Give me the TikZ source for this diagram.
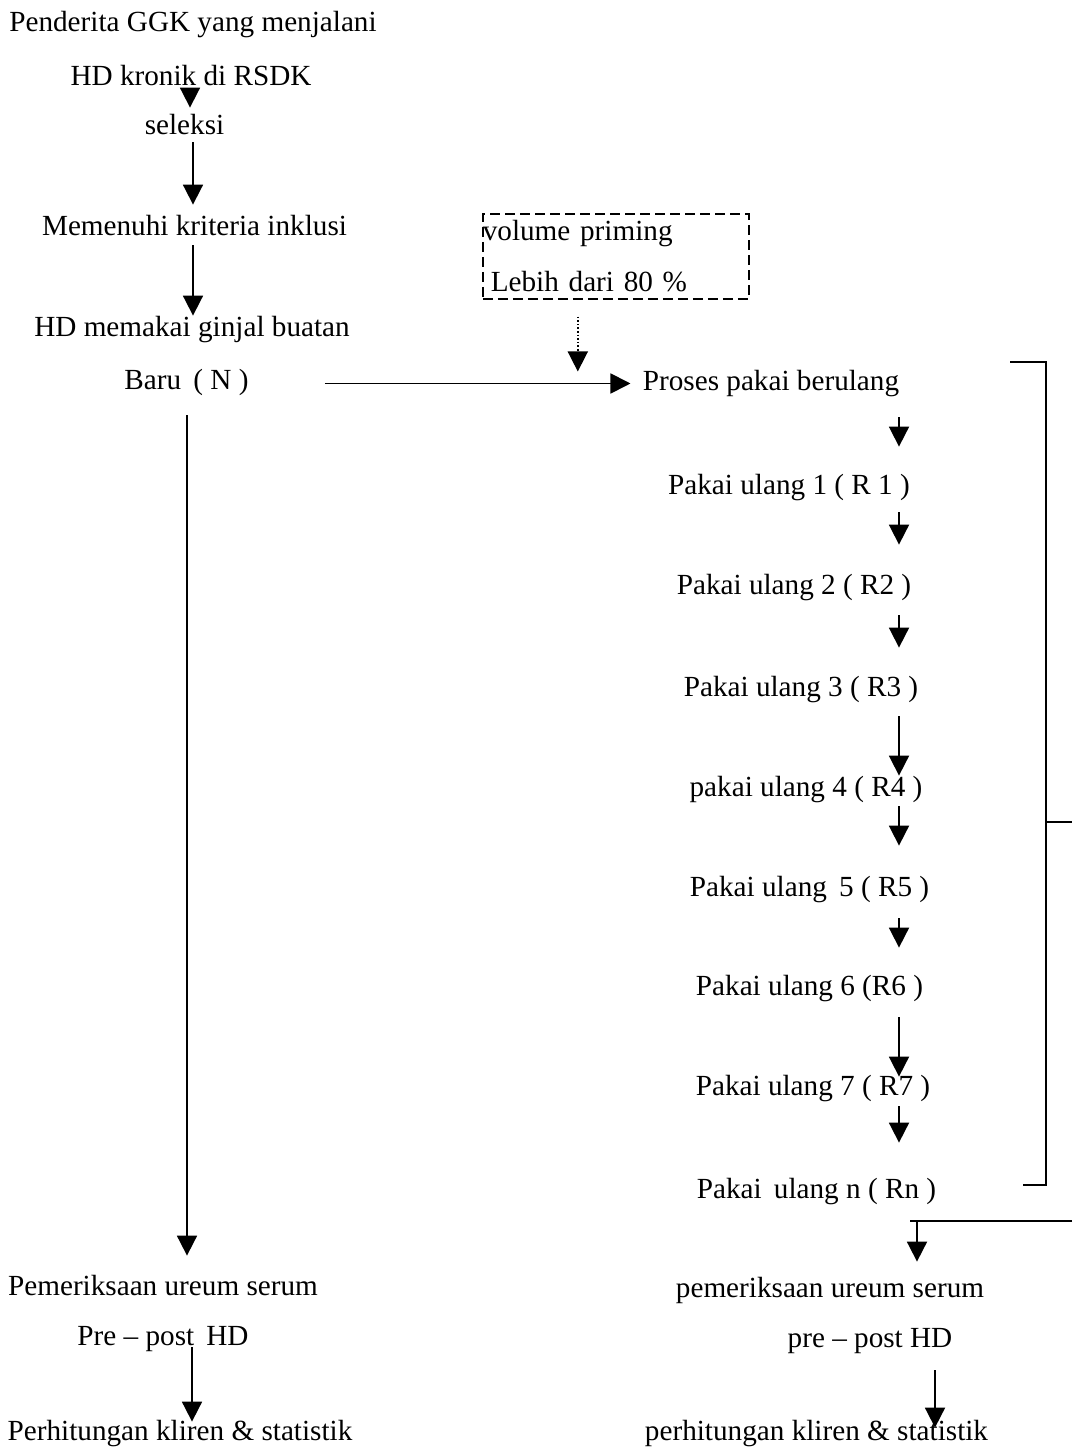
\documentclass[tikz,border=0pt]{standalone}
\usepackage{fontspec}
\setmainfont{Liberation Serif}
\usepackage{tikz}
\usetikzlibrary{arrows.meta, positioning}

\begin{document}
\begin{tikzpicture}[
    x=0.5pt, y=-0.5pt,
    teks/.style={inner sep=0pt, text height=10pt, text depth=3.5pt, anchor=base, font=\fontsize{14.6}{17}\selectfont},
    kotak/.style={draw, dashed, dash pattern=on 5pt off 2.5pt, line width=0.8pt, inner xsep=0pt, inner ysep=3pt, text width=133pt, minimum height=42.5pt, align=left, anchor=north west, font=\fontsize{14.6}{17}\selectfont},
    panah/.style={-{Triangle[length=10pt, width=10pt]}, line width=0.9pt},
    titik/.style={-{Triangle[length=10pt, width=10pt]}, line width=0.8pt, densely dotted},
    garis/.style={line width=0.9pt}
]
    \useasboundingbox (0,0) rectangle (1072,1454);
    \coordinate (kiri) at (190,0);
    \coordinate (kanan) at (899,0);

    % kolom kiri
    \node[teks] (n1) at (193,32) {Penderita GGK yang menjalani};
    \node[teks] (n2) at (191,86) {HD kronik di RSDK};
    \node[teks] (n3) at (184.5,135) {seleksi};
    \node[teks] (n4) at (194.5,236) {Memenuhi kriteria inklusi};
    \node[teks] (n5) at (192,337) {HD memakai ginjal buatan};
    \node[teks] (n6) at (186.5,390) {Baru\, ( N )};
    \node[teks] (n7) at (163,1295) {Pemeriksaan ureum serum};
    \node[teks] (n8) at (163,1345) {Pre -- post\, HD};
    \node[teks] (n9) at (180,1440) {Perhitungan kliren \& statistik};

    % kotak volume priming
    \node[kotak] (vp) at (482,213) {volume priming\\[8.5pt]\hspace*{4pt}Lebih dari 80 \%};

    % kolom kanan
    \node[teks] (proses) at (771,391) {Proses pakai berulang};
    \node[teks] (r1) at (789,494) {Pakai ulang 1 ( R 1 )};
    \node[teks] (r2) at (794,594) {Pakai ulang 2 ( R2 )};
    \node[teks] (r3) at (801,696) {Pakai ulang 3 ( R3 )};
    \node[teks] (r4) at (806,796) {pakai ulang 4 ( R4 )};
    \node[teks] (r5) at (809.5,896) {Pakai ulang\, 5 ( R5 )};
    \node[teks] (r6) at (809.5,995) {Pakai ulang 6 (R6 )};
    \node[teks] (r7) at (813,1095) {Pakai ulang 7 ( R7 )};
    \node[teks] (rn) at (816.5,1198) {Pakai\, ulang n ( Rn )};
    \node[teks] (p1) at (830,1297) {pemeriksaan ureum serum};
    \node[teks] (p2) at (870,1347) {pre -- post HD};
    \node[teks] (p3) at (816.5,1440) {perhitungan kliren \& statistik};

    % panah kiri
    \draw[panah, shorten <=-6.5pt, shorten >=3.5pt] (n2.south -| kiri) -- (n3.north -| kiri);
    \draw[panah, shorten >=5.5pt] ([xshift=1.5pt]n3.south -| kiri) -- ([xshift=1.5pt]n4.north -| kiri);
    \draw[panah, shorten <=1pt, shorten >=0.5pt] ([xshift=1.5pt]n4.south -| kiri) -- ([xshift=1.5pt]n5.north -| kiri);
    \draw[panah, shorten <=9pt, shorten >=9.5pt] ([xshift=-1.5pt]n6.south -| kiri) -- ([xshift=-1.5pt]n7.north -| kiri);
    \draw[panah, shorten <=-2.5pt, shorten >=-1pt] ([xshift=1pt]n8.south -| kiri) -- ([xshift=1pt]n9.north -| kiri);

    % panah ke proses
    \draw[panah, shorten <=38pt, shorten >=6pt] (n6.east) -- (n6.east -| proses.west);
    \draw[titik, shorten <=8.5pt, shorten >=6pt] ([xshift=-19pt]vp.south) -- ([xshift=-19pt]vp.south |- n6.east);

    % panah kanan
    \draw[panah, shorten <=9.5pt, shorten >=13.5pt] (proses.south -| kanan) -- (r1.north -| kanan);
    \draw[panah, shorten <=5.5pt, shorten >=14.5pt] (r1.south -| kanan) -- (r2.north -| kanan);
    \draw[panah, shorten <=7pt, shorten >=14pt] (r2.south -| kanan) -- (r3.north -| kanan);
    \draw[panah, shorten <=6.5pt] (r3.south -| kanan) -- (r4.north -| kanan);
    \draw[panah, shorten <=1.5pt, shorten >=15pt] (r4.south -| kanan) -- (r5.north -| kanan);
    \draw[panah, shorten <=7.5pt, shorten >=13.5pt] (r5.south -| kanan) -- (r6.north -| kanan);
    \draw[panah, shorten <=7.5pt, shorten >=-1pt] (r6.south -| kanan) -- (r7.north -| kanan);
    \draw[panah, shorten <=2pt, shorten >=17.5pt] (r7.south -| kanan) -- (rn.north -| kanan);

    % kurung kanan
    \draw[garis] (1010,362) -- (1046,362) -- (1046,1185) -- (1023,1185);
    \draw[garis] (1046,822) -- (1072,822);

    % garis balik ke pemeriksaan
    \coordinate (sudut) at (917,1221);
    \draw[garis] (1072,1221) -- (910,1221);
    \draw[panah, shorten >=7.5pt] (sudut) -- (p1.north -| sudut);
    \draw[panah, shorten <=8pt, shorten >=-4pt] ([xshift=18pt]p2.south -| kanan) -- ([xshift=18pt]p3.north -| kanan);
\end{tikzpicture}
\end{document}
